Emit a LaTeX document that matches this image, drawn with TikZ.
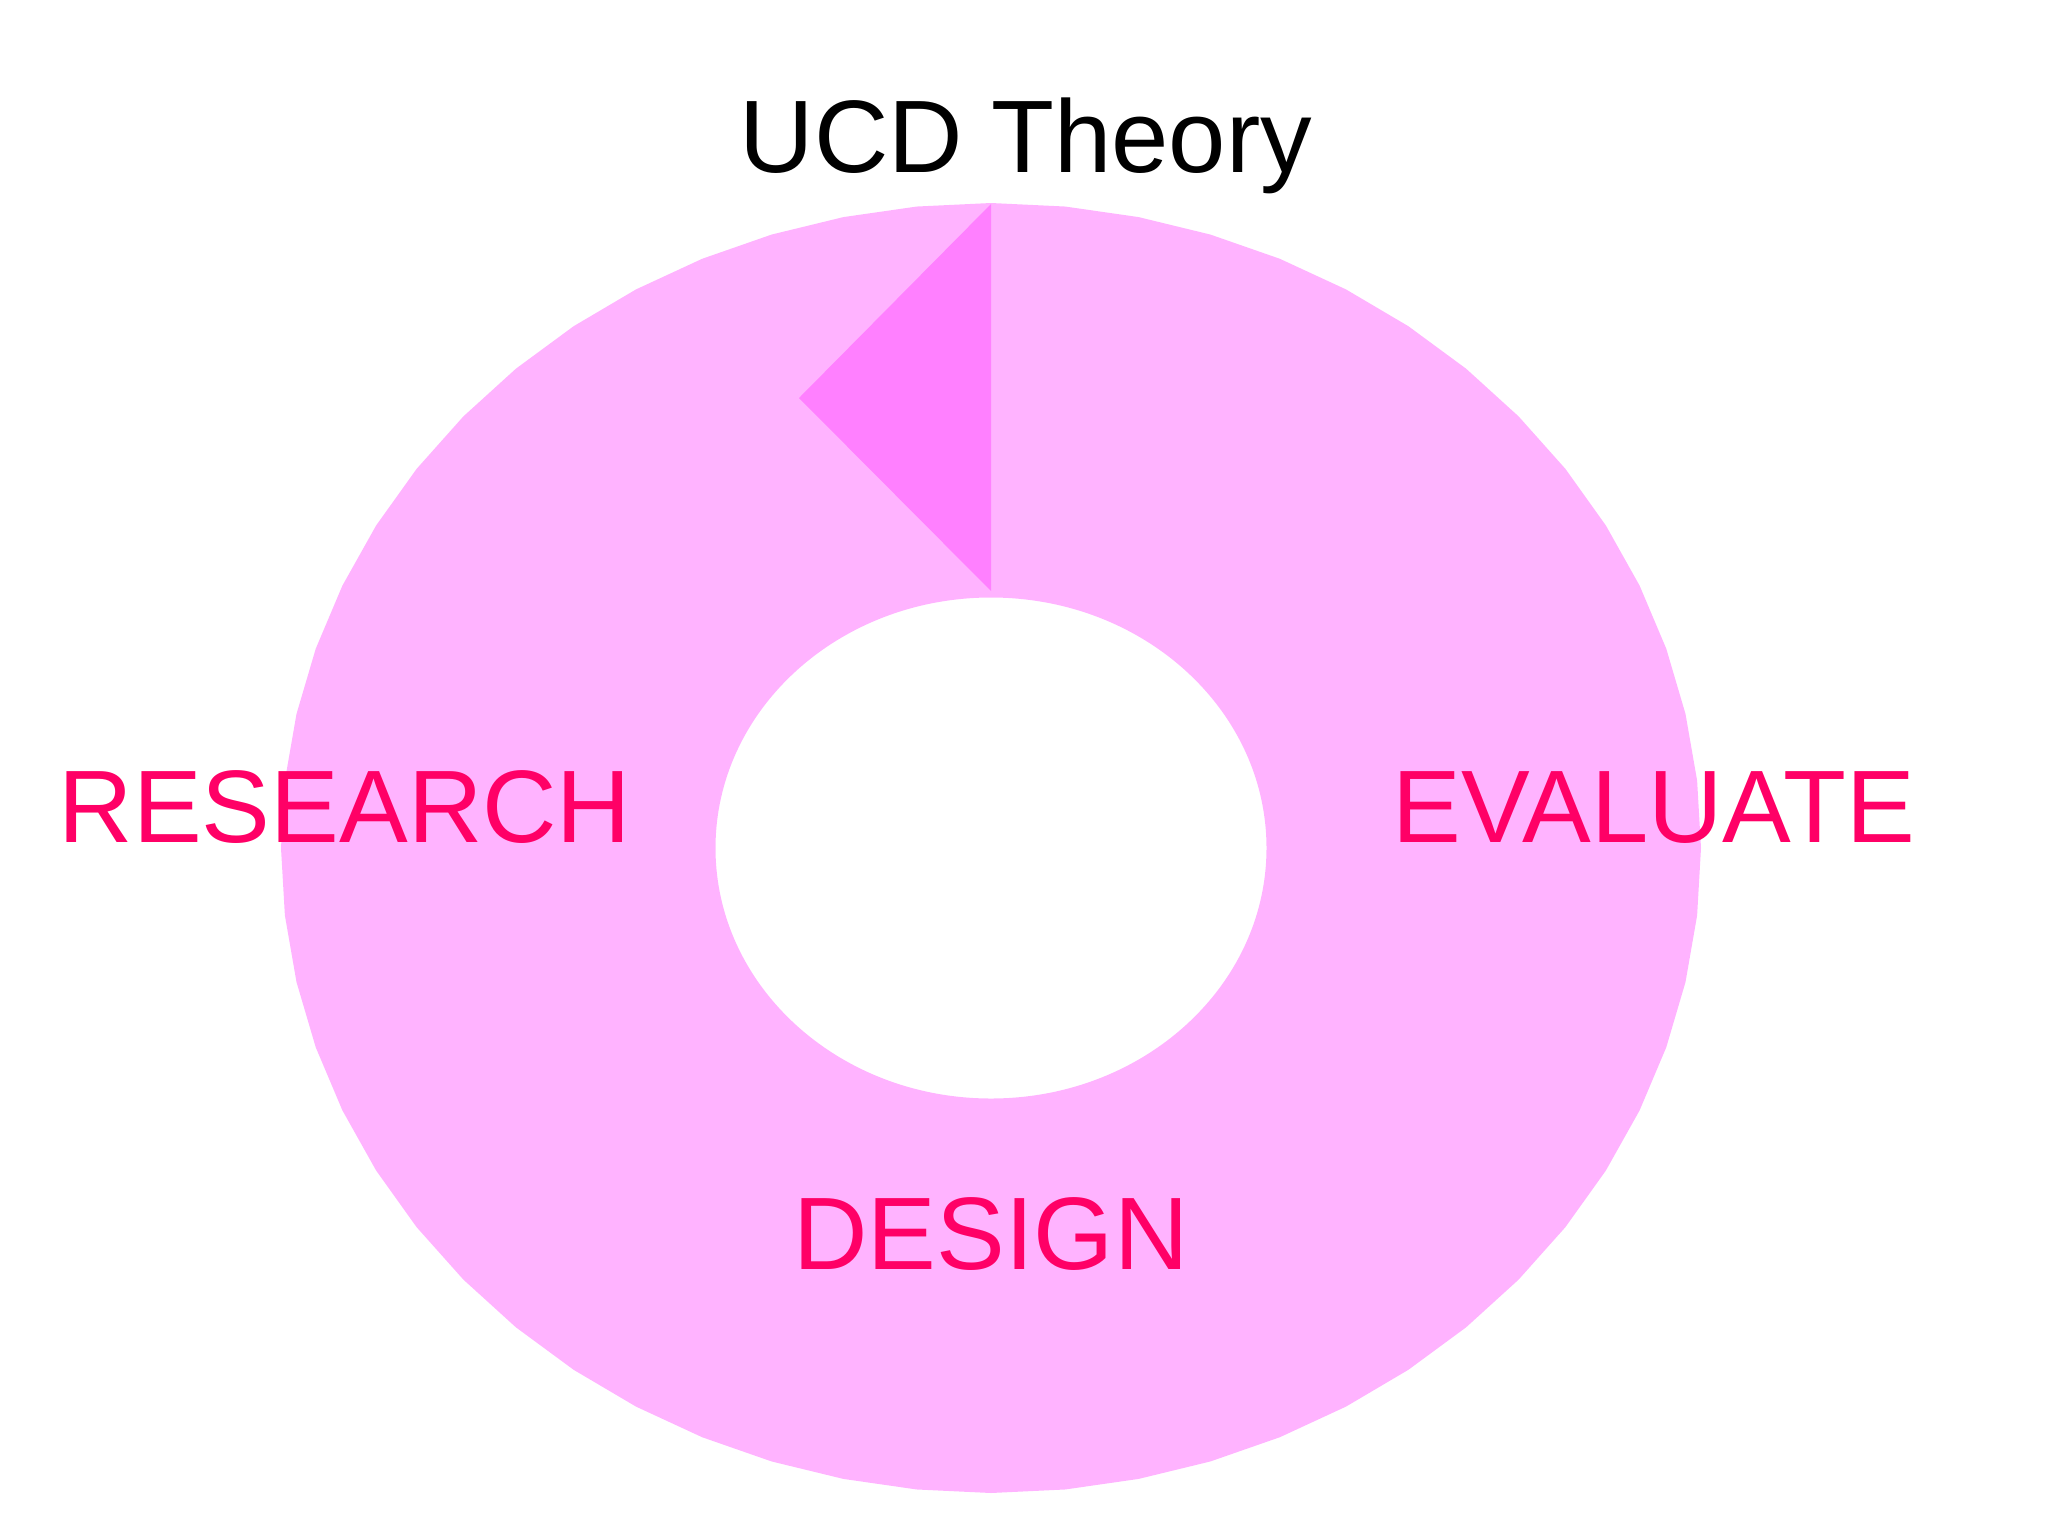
\documentclass[tikz,border=0pt]{standalone}
\usepackage{fontspec}
\setmainfont{Liberation Sans}
\usepackage{xcolor}
\usepackage{tikz}
\definecolor{ringpink}{RGB}{255,179,255}
\definecolor{wedgepink}{RGB}{255,128,255}
\definecolor{stagered}{RGB}{255,0,102}

\begin{document}
\begin{tikzpicture}[x=0.01cm,y=-0.01cm,
    ring/.style={fill=ringpink,even odd rule},
    wedge/.style={fill=wedgepink},
    title node/.style={anchor=base,text=black,inner sep=0pt,font=\fontsize{29.3}{35}\selectfont},
    stage node/.style={anchor=base,text=stagered,inner sep=0pt,font=\fontsize{29.3}{35}\selectfont}]
            \useasboundingbox (0,0) rectangle (2048,1536);

            \fill[ring] plot[samples=61,domain=90:450,variable=\t] ({991+710*cos(\t)},{848-645*sin(\t)}) -- cycle
                (991,848) ellipse [x radius=275.5,y radius=250.5];
            \fill[wedge] (991,204) -- (799,398) -- (991,591) -- cycle;

            \node[title node] (title) at (1026,172) {UCD Theory};
            \node[stage node] (research) at (345,842) {RESEARCH};
            \node[stage node] (evaluate) at (1654,842) {EVALUATE};
            \node[stage node] (design) at (991,1269) {DESIGN};

            %\node[stage node] (theory) at (991,848) {};
        \end{tikzpicture}
\end{document}
